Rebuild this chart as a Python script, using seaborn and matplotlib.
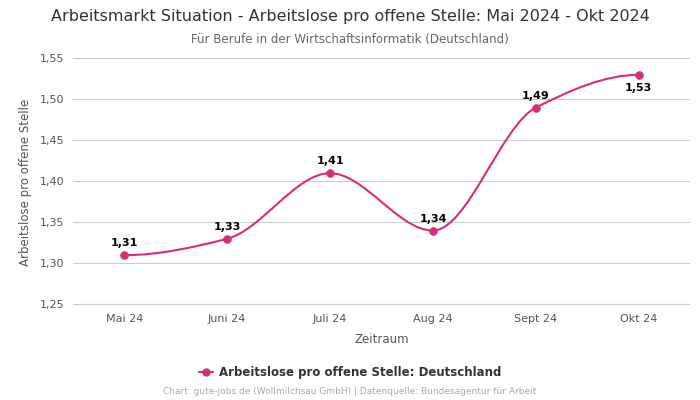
import numpy as np
import pandas as pd
import matplotlib
matplotlib.use('Agg')
import matplotlib.pyplot as plt
from matplotlib.path import Path
from matplotlib.patches import PathPatch
from matplotlib.lines import Line2D
import seaborn as sns

# Daten
monate = ['Mai 24', 'Juni 24', 'Juli 24', 'Aug 24', 'Sept 24', 'Okt 24']
werte = [1.31, 1.33, 1.41, 1.34, 1.49, 1.53]
labels = ['1,31', '1,33', '1,41', '1,34', '1,49', '1,53']
y_ticks = [1.25, 1.30, 1.35, 1.40, 1.45, 1.50, 1.55]

FARBE = '#d42e7b'

sns.set_theme(style='whitegrid')
plt.rcParams['font.family'] = ['DejaVu Sans']

df = pd.DataFrame({'x': np.arange(len(monate)), 'wert': werte})

fig = plt.figure(figsize=(7, 4), dpi=100)
ax = fig.add_axes([0.104, 0.235, 0.882, 0.62])

# glatte Kurve (monotone kubische Bezier-Segmente durch die Punkte)
x = df['x'].values.astype(float)
y = df['wert'].values
d = np.diff(y) / np.diff(x)
m = np.zeros_like(y)
for i in range(1, len(y) - 1):
    if d[i - 1] * d[i] > 0:
        m[i] = 2 / (1 / d[i - 1] + 1 / d[i])
verts = [(x[0], y[0])]
codes = [Path.MOVETO]
for i in range(len(x) - 1):
    h = x[i + 1] - x[i]
    verts += [(x[i] + h / 3, y[i] + m[i] * h / 3),
              (x[i + 1] - h / 3, y[i + 1] - m[i + 1] * h / 3),
              (x[i + 1], y[i + 1])]
    codes += [Path.CURVE4] * 3
ax.add_patch(PathPatch(Path(verts, codes), facecolor='none', edgecolor=FARBE, lw=1.5, zorder=3))

sns.scatterplot(data=df, x='x', y='wert', ax=ax, color=FARBE, s=32, edgecolor=FARBE, zorder=4, legend=False)

for i, (w, lab) in enumerate(zip(werte, labels)):
    if i == len(werte) - 1:
        ax.annotate(lab, (i, w), xytext=(0, -6), textcoords='offset points',
                    ha='center', va='top', fontsize=8, fontweight='bold', color='black')
    else:
        ax.annotate(lab, (i, w), xytext=(0, 5), textcoords='offset points',
                    ha='center', va='bottom', fontsize=8, fontweight='bold', color='black')

ax.set_xlim(-0.5, 5.5)
ax.set_ylim(1.248, 1.5505)
ax.set_xticks(range(len(monate)))
ax.set_xticklabels(monate)
ax.set_yticks(y_ticks)
ax.set_yticklabels([f'{t:.2f}'.replace('.', ',') for t in y_ticks])
ax.tick_params(axis='both', labelsize=8, labelcolor='#555555', length=0, pad=6)
ax.grid(axis='x', visible=False)
ax.grid(axis='y', color='#cccccc', lw=0.8)
ax.axhline(1.25, color='#cccccc', lw=0.8, zorder=0.5)
for s in ax.spines.values():
    s.set_visible(False)
ax.set_xlabel('Zeitraum', fontsize=8.5, color='#555555', labelpad=6)
ax.set_ylabel('Arbeitslose pro offene Stelle', fontsize=8.5, color='#555555', labelpad=6)

fig.text(0.5, 0.958, 'Arbeitsmarkt Situation - Arbeitslose pro offene Stelle: Mai 2024 - Okt 2024',
         ha='center', va='center', fontsize=11.5, color='#333333')
fig.text(0.5, 0.902, 'Für Berufe in der Wirtschaftsinformatik (Deutschland)',
         ha='center', va='center', fontsize=8.5, color='#666666')

handle = Line2D([], [], color=FARBE, marker='o', markersize=5, lw=1.5)
leg = fig.legend([handle], ['Arbeitslose pro offene Stelle: Deutschland'], loc='center',
                 bbox_to_anchor=(0.5, 0.068), frameon=False, handlelength=1.2, handletextpad=0.5,
                 prop={'weight': 'bold', 'size': 8.5})
for t in leg.get_texts():
    t.set_color('#333333')
fig.text(0.5, 0.02, 'Chart: gute-jobs.de (Wollmilchsau GmbH) | Datenquelle: Bundesagentur für Arbeit',
         ha='center', va='center', fontsize=6.5, color='#aaaaaa')

fig.savefig('out.png', dpi=100)
